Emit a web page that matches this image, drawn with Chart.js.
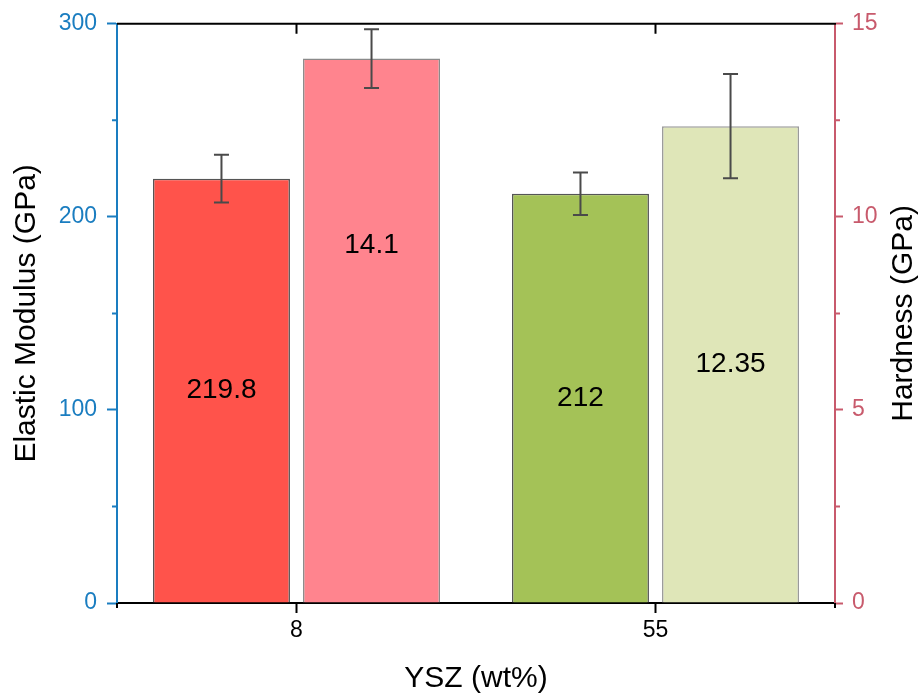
<!DOCTYPE html>
<html lang="en">
<head>
    <meta charset="UTF-8">
    <title>Elastic Modulus and Hardness</title>
    <script src="https://cdn.jsdelivr.net/npm/chart.js"></script>
    <style>
        html, body { margin: 0; padding: 0; background: #fff; }
        .chart-box { position: relative; width: 924px; height: 699px; }
    </style>
</head>
<body>
    <div class="chart-box">
        <canvas id="barChart"></canvas>
    </div>
    <script>
        // data
        var categories = ['8', '55'];
        var modulus = [219.8, 212];
        var modulusErr = [12.4, 11];
        var hardness = [14.1, 12.35];
        var hardnessErr = [0.76, 1.35];
        var modulusLabels = ['219.8', '212'];
        var hardnessLabels = ['14.1', '12.35'];

        var blue = '#1a7dc0';
        var rose = '#c85a6c';
        var font = 'Arial, "Liberation Sans", sans-serif';

        // error bars, value labels, frame, minor ticks, right title
        var extras = {
            id: 'extras',
            afterDatasetsDraw: function (chart, args, opts) {
                var ctx = chart.ctx;
                var errs = [modulusErr, hardnessErr];
                var labels = [modulusLabels, hardnessLabels];
                ctx.save();
                chart.data.datasets.forEach(function (ds, di) {
                    var meta = chart.getDatasetMeta(di);
                    var sc = chart.scales[ds.yAxisID];
                    meta.data.forEach(function (bar, i) {
                        var v = ds.data[i];
                        var yHi = sc.getPixelForValue(v + errs[di][i]);
                        var yLo = sc.getPixelForValue(v - errs[di][i]);
                        ctx.strokeStyle = '#4a4a4a';
                        ctx.lineWidth = 2;
                        ctx.beginPath();
                        ctx.moveTo(bar.x, yHi); ctx.lineTo(bar.x, yLo);
                        ctx.moveTo(bar.x - 7.5, yHi); ctx.lineTo(bar.x + 7.5, yHi);
                        ctx.moveTo(bar.x - 7.5, yLo); ctx.lineTo(bar.x + 7.5, yLo);
                        ctx.stroke();

                        var f = opts.labelFrac[di][i];
                        var ly = bar.base - (bar.base - bar.y) * f;
                        ctx.fillStyle = '#000';
                        ctx.font = '28px ' + font;
                        ctx.textAlign = 'center';
                        ctx.textBaseline = 'middle';
                        ctx.fillText(labels[di][i], bar.x, ly);
                    });
                });
                ctx.restore();
            },
            afterDraw: function (chart) {
                var ctx = chart.ctx;
                var a = chart.chartArea;
                var x = chart.scales.x, y = chart.scales.y, y1 = chart.scales.y1;
                ctx.save();
                ctx.lineWidth = 2;
                // top frame line with inward ticks
                ctx.strokeStyle = '#000';
                ctx.beginPath();
                ctx.moveTo(a.left, a.top); ctx.lineTo(a.right + 1, a.top);
                categories.forEach(function (c, i) {
                    var px = x.getPixelForTick(i);
                    ctx.moveTo(px, a.top); ctx.lineTo(px, a.top + 10);
                });
                // minor ticks on bottom edges
                ctx.moveTo(a.left, a.bottom); ctx.lineTo(a.left, a.bottom + 5);
                ctx.moveTo(a.right, a.bottom); ctx.lineTo(a.right, a.bottom + 5);
                ctx.stroke();
                // minor y ticks
                ctx.strokeStyle = blue;
                ctx.beginPath();
                [50, 150, 250].forEach(function (v) {
                    var py = y.getPixelForValue(v);
                    ctx.moveTo(a.left - 5, py); ctx.lineTo(a.left, py);
                });
                ctx.stroke();
                ctx.strokeStyle = rose;
                ctx.beginPath();
                [2.5, 7.5, 12.5].forEach(function (v) {
                    var py = y1.getPixelForValue(v);
                    ctx.moveTo(a.right, py); ctx.lineTo(a.right + 5, py);
                });
                ctx.stroke();
                // right axis title, reading bottom to top
                ctx.translate(904, (a.top + a.bottom) / 2);
                ctx.rotate(-Math.PI / 2);
                ctx.fillStyle = '#000';
                ctx.font = '30px ' + font;
                ctx.textAlign = 'center';
                ctx.textBaseline = 'middle';
                ctx.fillText('Hardness (GPa)', 0, 0);
                ctx.restore();
            }
        };

        var data = {
            labels: categories,
            datasets: [{
                label: 'Elastic Modulus',
                data: modulus,
                yAxisID: 'y',
                backgroundColor: ['#ff534b', '#a4c257'],
                borderColor: ['#555555', '#555555'],
                borderWidth: 1.5
            }, {
                label: 'Hardness',
                data: hardness,
                yAxisID: 'y1',
                backgroundColor: ['#ff848e', '#dfe6b8'],
                borderColor: ['#8a8a8a', '#9a9a9a'],
                borderWidth: 1.5
            }]
        };

        var options = {
            responsive: false,
            animation: false,
            categoryPercentage: 0.836,
            barPercentage: 0.913,
            layout: { padding: { top: 21, left: 0, right: 0, bottom: 0 } },
            plugins: {
                legend: { display: false },
                tooltip: { enabled: false },
                extras: { labelFrac: [[0.5, 0.5], [0.657, 0.5]] }
            },
            scales: {
                x: {
                    offset: true,
                    grid: { offset: false, drawOnChartArea: false, tickLength: 10, color: '#000', tickWidth: 2 },
                    border: { color: '#000', width: 2 },
                    ticks: { color: '#000', font: { size: 23, family: font }, padding: 4 },
                    title: { display: true, text: 'YSZ (wt%)', color: '#000', font: { size: 30, family: font }, padding: { top: 0, bottom: 2 } },
                    afterFit: function (s) { s.height = 96; }
                },
                y: {
                    position: 'left',
                    min: 0, max: 300,
                    ticks: { stepSize: 100, color: blue, font: { size: 23, family: font }, padding: 10 },
                    grid: { drawOnChartArea: false, tickLength: 10, color: blue, tickWidth: 2 },
                    border: { color: blue, width: 2 },
                    title: { display: true, text: 'Elastic Modulus (GPa)', color: '#000', font: { size: 30, family: font }, padding: { top: 9, bottom: 0 } },
                    afterFit: function (s) { s.width = 117; }
                },
                y1: {
                    position: 'right',
                    min: 0, max: 15,
                    ticks: { stepSize: 5, color: rose, font: { size: 23, family: font }, padding: 9 },
                    grid: { drawOnChartArea: false, tickLength: 8, color: rose, tickWidth: 2 },
                    border: { color: rose, width: 2 },
                    title: { display: false },
                    afterFit: function (s) { s.width = 89; }
                }
            }
        };

        var barChartCtx = document.getElementById('barChart');
        barChartCtx.width = 924;
        barChartCtx.height = 699;
        new Chart(barChartCtx.getContext('2d'), { type: 'bar', data: data, options: options, plugins: [extras] });
    </script>
</body>
</html>
